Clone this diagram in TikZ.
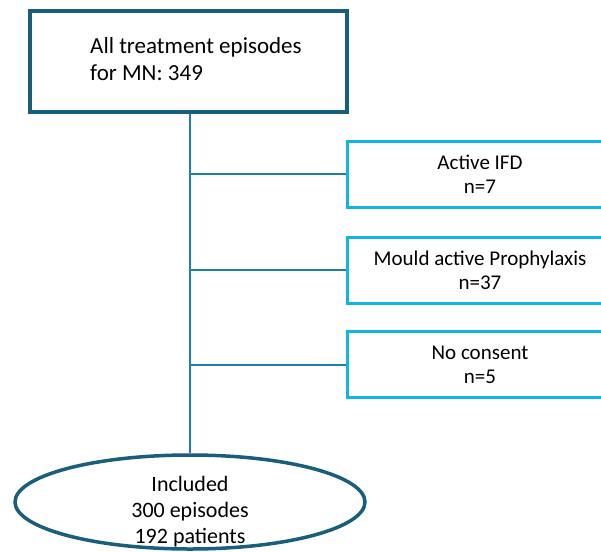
\documentclass[tikz,border=0pt]{standalone}
\usepackage{fontspec}
\setmainfont{Carlito}
\usetikzlibrary{shapes.geometric}
\definecolor{darkteal}{HTML}{1A5E7E}
\definecolor{lightcyan}{HTML}{12B4E6}
\definecolor{linkblue}{HTML}{1C80A8}
\begin{document}
\begin{tikzpicture}[x=1pt,y=-1pt,
  mainbox/.style={draw=darkteal,line width=3.5pt,rectangle,minimum width=317pt,minimum height=101pt},
  maintext/.style={anchor=west,inner sep=0pt,align=left,font=\fontsize{23}{27}\selectfont},
  sidebox/.style={draw=lightcyan,line width=3pt,rectangle,minimum width=266pt,minimum height=66pt,align=center,font=\fontsize{21}{24}\selectfont},
  endell/.style={draw=darkteal,line width=3.5pt,ellipse,minimum width=350pt,minimum height=94pt,inner sep=0pt},
  link/.style={draw=linkblue,line width=2pt}]
\useasboundingbox (0,0) rectangle (601,551);
\clip (0,0) rectangle (601,551);
\fill[white] (0,0) rectangle (601,551);
\node[mainbox] (top) at (188.5,61.5) {};
\node[maintext] (toptext) at (90,59) {All treatment episodes\\for MN: 349};
\node[sidebox] (b1) at (480,174) {Active IFD\\n=7};
\node[sidebox] (b2) at (480,270) {Mould active Prophylaxis\\n=37};
\node[sidebox] (b3) at (480,364.5) {No consent\\n=5};
\node[endell,label={[align=center,font=\fontsize{22}{26}\selectfont,yshift=-10pt]center:Included\\300 episodes\\192 patients}] (ell) at (190,502) {};
\draw[link] (ell.north |- top.south) -- (ell.north);
\draw[link] (ell.north |- b1.west) -- (b1.west);
\draw[link] (ell.north |- b2.west) -- (b2.west);
\draw[link] (ell.north |- b3.west) -- (b3.west);
\end{tikzpicture}
\end{document}
